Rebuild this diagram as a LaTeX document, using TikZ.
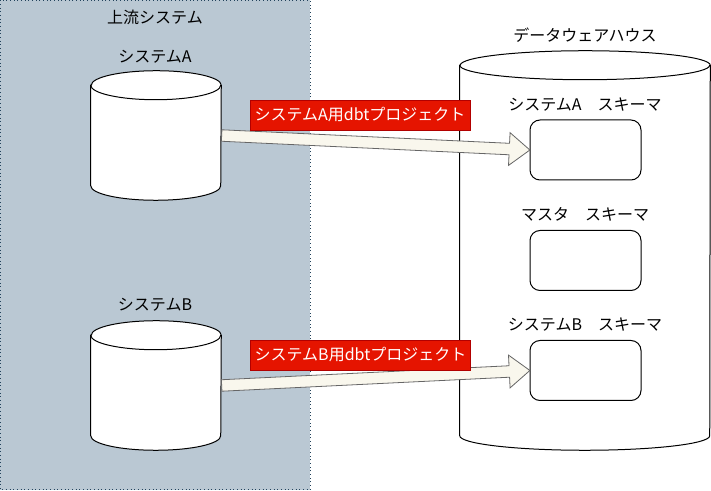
\documentclass[tikz,border=0pt]{standalone}
\usepackage{fontspec}
\setmainfont{Noto Sans CJK JP}
\usepackage{tikz}
\usetikzlibrary{positioning, shapes.arrows, calc}

\definecolor{panelfill}{HTML}{BAC8D3}
\definecolor{paneldraw}{HTML}{23445D}
\definecolor{dbtred}{HTML}{E51400}
\definecolor{dbtredline}{HTML}{B20000}
\definecolor{arrowfill}{HTML}{F9F7ED}
\definecolor{arrowline}{HTML}{666666}

\tikzset{
  txt/.style={font=\fontsize{12pt}{14pt}\selectfont, inner sep=0pt},
  canbox/.style={rectangle, inner sep=0pt},
  can/.style={draw=black, fill=white, line width=0.75pt},
  schema/.style={draw=black, fill=white, rounded corners=7.5pt, line width=0.75pt, minimum width=83.25pt, minimum height=45pt, inner sep=0pt},
  dbtlabel/.style={draw=dbtredline, fill=dbtred, text=white, font=\fontsize{12pt}{14pt}\selectfont, minimum width=165pt, minimum height=22.5pt, inner sep=0pt},
  dbtarrow/.style={single arrow, draw=arrowline, fill=arrowfill, line width=0.6pt, inner xsep=0pt, inner ysep=4pt, single arrow head extend=8pt, single arrow tip angle=77, anchor=tail}
}

\begin{document}
\begin{tikzpicture}[x=0.75pt,y=0.75pt,yscale=-1,xscale=1]
\useasboundingbox (0,0) rectangle (711,491);

%Shape: Rectangle [upstream panel]
\draw [draw=paneldraw, fill=panelfill, dotted, line width=0.75pt] (0.5,0.5) rectangle (310,490);

%Shape: Can [system A]
\node [canbox, minimum width=97.5pt, minimum height=96.75pt] (sysA) at (156,135.5) {};
\draw [can] ($(sysA.north west)+(0,14.5)$) -- ($(sysA.south west)+(0,-14.5)$) arc [start angle=180, end angle=0, x radius=65, y radius=14.5] -- ($(sysA.north east)+(0,14.5)$) arc [start angle=0, end angle=-180, x radius=65, y radius=14.5] -- cycle ;
\draw [can, fill=none] ($(sysA.north west)+(0,14.5)$) arc [start angle=180, end angle=0, x radius=65, y radius=14.5] ;
%Shape: Can [system B]
\node [canbox, minimum width=97.5pt, minimum height=96.75pt] (sysB) at (156,385.5) {};
\draw [can] ($(sysB.north west)+(0,14.5)$) -- ($(sysB.south west)+(0,-14.5)$) arc [start angle=180, end angle=0, x radius=65, y radius=14.5] -- ($(sysB.north east)+(0,14.5)$) arc [start angle=0, end angle=-180, x radius=65, y radius=14.5] -- cycle ;
\draw [can, fill=none] ($(sysB.north west)+(0,14.5)$) arc [start angle=180, end angle=0, x radius=65, y radius=14.5] ;
%Shape: Can [data warehouse]
\node [canbox, minimum width=187.5pt, minimum height=299.25pt] (dwh) at (585,250.5) {};
\draw [can] ($(dwh.north west)+(0,14.5)$) -- ($(dwh.south west)+(0,-14.5)$) arc [start angle=180, end angle=0, x radius=125, y radius=14.5] -- ($(dwh.north east)+(0,14.5)$) arc [start angle=0, end angle=-180, x radius=125, y radius=14.5] -- cycle ;
\draw [can, fill=none] ($(dwh.north west)+(0,14.5)$) arc [start angle=180, end angle=0, x radius=125, y radius=14.5] ;

%Shape: Rounded Rect [schemas]
\node [schema] (schemaA) at (585.5,150) {};
\node [schema] (schemaM) at (585.5,260.5) {};
\node [schema] (schemaB) at (585.5,370.5) {};

%Shape: Block Arrows
\path let \p1=($(schemaA.west)-(sysA.east)$), \n1={atan2(\y1,\x1)}, \n2={veclen(\x1,\y1)} in node [dbtarrow, rotate=-\n1, minimum height=\n2] (arrA) at (sysA.east) {};
\path let \p1=($(schemaB.west)-(sysB.east)$), \n1={atan2(\y1,\x1)}, \n2={veclen(\x1,\y1)} in node [dbtarrow, rotate=-\n1, minimum height=\n2] (arrB) at (sysB.east) {};

% Text Node
\draw (360,115) node [dbtlabel] (prjA) {システムA用dbtプロジェクト};
% Text Node
\draw (360.5,355) node [dbtlabel] (prjB) {システムB用dbtプロジェクト};
% Text Node
\draw (155,17) node [txt] (upstream) {上流システム};
% Text Node
\draw (155,57) node [txt] (lblA) {システムA};
% Text Node
\draw (155,305) node [txt] (lblB) {システムB};
% Text Node
\draw (585,35) node [txt] (lblDwh) {データウェアハウス};
% Text Node
\draw (585,105) node [txt] (lblSchemaA) {システムA　スキーマ};
% Text Node
\draw (585,214) node [txt] (lblSchemaM) {マスタ　スキーマ};
% Text Node
\draw (585,325) node [txt] (lblSchemaB) {システムB　スキーマ};

\end{tikzpicture}
\end{document}
